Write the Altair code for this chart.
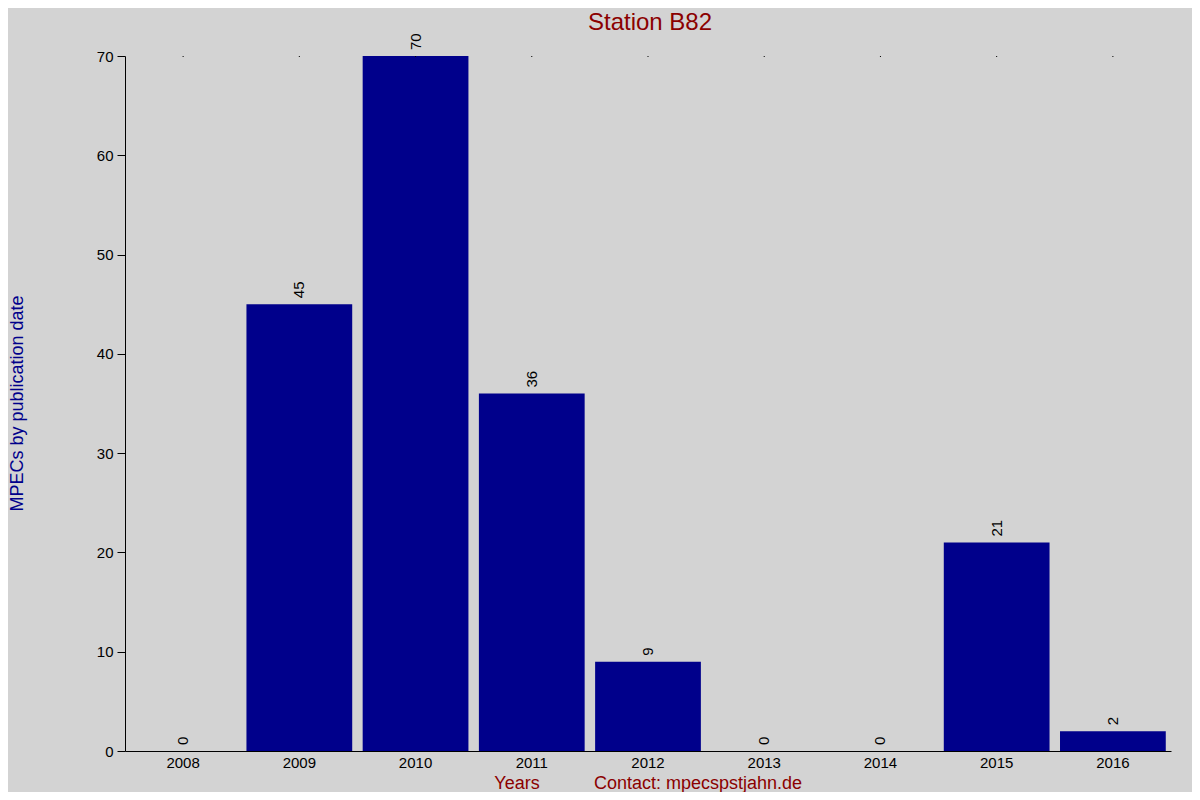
import altair as alt
import pandas as pd

years = ["2008", "2009", "2010", "2011", "2012", "2013", "2014", "2015", "2016"]
counts = [0, 45, 70, 36, 9, 0, 0, 21, 2]

df = pd.DataFrame({"year": years, "count": counts})

W, H = 1046, 695
FONT = "Liberation Sans"

x_enc = alt.X("year:N", sort=years, title=None,
              scale=alt.Scale(paddingInner=0.09, paddingOuter=0.045),
              axis=alt.Axis(labelAngle=0, labelFontSize=15, labelColor="#000000",
                            labelFont=FONT, ticks=False, domainColor="#000000",
                            labelPadding=4, grid=False))
y_enc = alt.Y("count:Q", title=None,
              scale=alt.Scale(domain=[0, 70], nice=False),
              axis=alt.Axis(values=list(range(0, 80, 10)), labelFontSize=15,
                            labelColor="#000000", labelFont=FONT, tickSize=8,
                            tickColor="#000000", domainColor="#000000",
                            labelPadding=4, grid=False))

base = alt.Chart(df)

bars = base.mark_bar(color="#00008b").encode(x=x_enc, y=y_enc)

labels = base.mark_text(angle=270, align="left", baseline="middle", dx=6,
                        fontSize=15, font=FONT, color="#000000").encode(
    x=alt.X("year:N", sort=years), y="count:Q", text="count:Q")

topdots = base.mark_rule(color="#000000", strokeWidth=1).encode(
    x=alt.X("year:N", sort=years), y=alt.value(0), y2=alt.value(1))

def text_layer(t, **kw):
    return alt.Chart(pd.DataFrame({"t": [t]})).mark_text(
        font=FONT, baseline="middle", align="center", **kw
    ).encode(text="t:N")

title = text_layer("Station B82", fontSize=24, color="#8b0000").encode(
    x=alt.value(W / 2 + 2), y=alt.value(-33))
ytitle = text_layer("MPECs by publication date", angle=270, fontSize=18,
                    color="#00008b").encode(x=alt.value(-107), y=alt.value(H / 2))
xtitle = text_layer("Years", fontSize=18, color="#8b0000").encode(
    x=alt.value(392), y=alt.value(H + 33))
contact = text_layer("Contact: mpecspstjahn.de", fontSize=18, color="#8b0000").encode(
    x=alt.value(573), y=alt.value(H + 33))

chart = alt.layer(bars, labels, topdots, title, ytitle, xtitle, contact).properties(
    width=W, height=H,
    background="#d3d3d3",
    padding={"left": 117, "top": 48, "right": 21, "bottom": 41},
    autosize=alt.AutoSizeParams(type="none"),
).configure_view(stroke=None)

chart.save("out.html", embed_options={"renderer": "svg", "actions": False})
